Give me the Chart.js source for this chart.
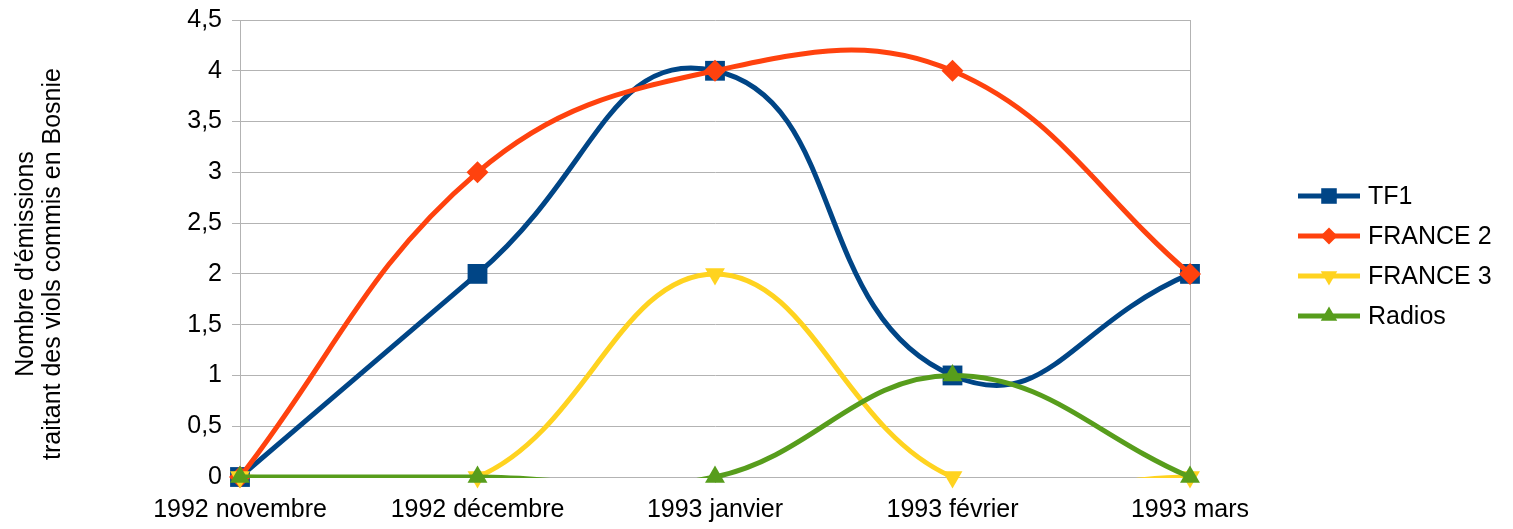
<!DOCTYPE html>
<html>
<head>
<meta charset="utf-8">
<script src="https://cdn.jsdelivr.net/npm/chart.js@4"></script>
<style>
  html, body { margin: 0; padding: 0; background: #fff; }
  #wrap { width: 1513px; height: 529px; position: relative; }
</style>
</head>
<body>
<div id="wrap"><canvas id="chart"></canvas></div>
<script>
const categories = ["1992 novembre", "1992 décembre", "1993 janvier", "1993 février", "1993 mars"];
const tf1 = [0, 2, 4, 1, 2];
const france2 = [0, 3, 4, 4, 2];
const france3 = [0, 0, 2, 0, 0];
const radios = [0, 0, 0, 1, 0];
const yTitle = ["Nombre d'émissions", "traitant des viols commis en Bosnie"];

const FONT = "'Liberation Sans', Arial, sans-serif";
const GRID = "#b3b3b3";

const SERIES = [
    { label: "TF1", data: tf1, color: "#004586", style: "rect", radius: 14, legendRadius: 11, rotation: 0, tension: 0.5 },
    { label: "FRANCE 2", data: france2, color: "#ff420e", style: "rectRot", radius: 11, legendRadius: 8.5, rotation: 0, tension: 0.4 },
    { label: "FRANCE 3", data: france3, color: "#ffd320", style: "triangle", radius: 11.5, legendRadius: 9.5, rotation: 180, tension: 0.4 },
    { label: "Radios", data: radios, color: "#579d1c", style: "triangle", radius: 11.5, legendRadius: 9.5, rotation: 0, tension: 0.4 },
];

// line and markers in separate datasets: the curve is clipped to the plot, the markers are not
const datasets = [];
SERIES.forEach((s, i) => {
    const order = (SERIES.length - i) * 2;
    datasets.push({
        label: s.label,
        data: s.data,
        borderColor: s.color,
        borderWidth: 5,
        tension: s.tension,
        pointRadius: 0,
        fill: false,
        clip: { left: 3, right: 3, top: 3, bottom: 1 },
        order: order,
    });
    datasets.push({
        label: s.label + " marker",
        data: s.data,
        showLine: false,
        pointStyle: s.style,
        pointRadius: s.radius,
        pointRotation: s.rotation,
        pointBackgroundColor: s.color,
        pointBorderWidth: 0,
        clip: false,
        order: order - 1,
    });
});

const sidePlugin = {
    id: "side",
    afterDraw(chart) {
        const ctx = chart.ctx;
        ctx.save();
        // y axis title
        ctx.fillStyle = "#000";
        ctx.font = "25px " + FONT;
        ctx.textAlign = "center";
        ctx.textBaseline = "middle";
        ctx.translate(0, 264);
        ctx.rotate(-Math.PI / 2);
        ctx.fillText(yTitle[0], 0, 26);
        ctx.fillText(yTitle[1], 0, 53);
        ctx.restore();

        // legend
        ctx.save();
        SERIES.forEach((s, i) => {
            const y = 196 + i * 40;
            ctx.strokeStyle = s.color;
            ctx.lineWidth = 5;
            ctx.beginPath();
            ctx.moveTo(1298, y);
            ctx.lineTo(1360, y);
            ctx.stroke();
            ctx.fillStyle = s.color;
            Chart.helpers.drawPoint(ctx, {
                pointStyle: s.style,
                radius: s.legendRadius,
                rotation: s.rotation,
                borderWidth: 0,
            }, 1329, y);
            ctx.fillStyle = "#000";
            ctx.font = "25px " + FONT;
            ctx.textAlign = "left";
            ctx.textBaseline = "middle";
            ctx.fillText(s.label, 1368, y + 1);
        });
        ctx.restore();
    },
};

new Chart(document.getElementById("chart"), {
    type: "line",
    data: { labels: categories, datasets: datasets },
    options: {
        responsive: true,
        maintainAspectRatio: false,
        animation: false,
        elements: { line: { capBezierPoints: false } },
        layout: { padding: { top: 20, right: 323, left: 0, bottom: 0 } },
        plugins: {
            legend: { display: false },
            tooltip: { enabled: false },
        },
        scales: {
            x: {
                offset: false,
                afterFit: (scale) => { scale.height = 52; },
                grid: {
                    color: (c) => (c.index === categories.length - 1 ? GRID : "transparent"),
                    tickColor: GRID,
                    tickLength: 6,
                    lineWidth: 1,
                },
                border: { color: GRID },
                ticks: {
                    color: "#000",
                    font: { family: FONT, size: 25 },
                    padding: 12,
                    maxRotation: 0,
                    autoSkip: false,
                },
            },
            y: {
                min: 0,
                max: 4.5,
                afterFit: (scale) => {
                    scale.width = 240;
                    scale.paddingTop = 0;
                    scale.paddingBottom = 0;
                },
                grid: { color: GRID, tickLength: 8 },
                border: { color: GRID },
                ticks: {
                    stepSize: 0.5,
                    color: "#000",
                    font: { family: FONT, size: 25 },
                    padding: 10,
                    callback: (v) => String(v).replace(".", ","),
                },
            },
        },
    },
    plugins: [sidePlugin],
});
</script>
</body>
</html>
